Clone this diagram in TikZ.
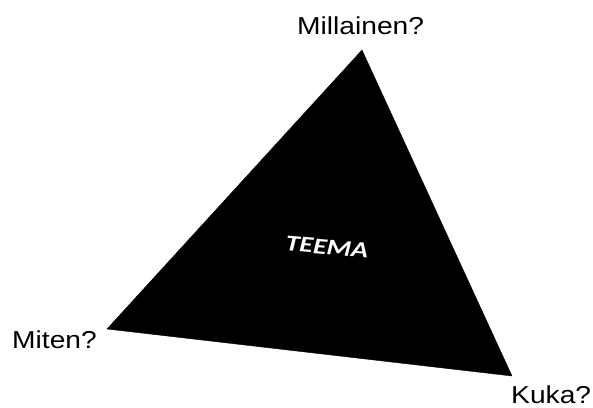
\documentclass[tikz,border=0pt]{standalone}
\usepackage{fontspec}
\setmainfont{Liberation Sans}
\newfontfamily\teemafont{Carlito}
\begin{document}
\begin{tikzpicture}[x=1pt,y=-1pt,
  lbl/.style={inner sep=0pt,anchor=base west,font=\fontsize{24.5}{28}\selectfont},
  tri/.style={fill=black,draw=black,line join=miter}]
\useasboundingbox[fill=white] (0,0) rectangle (593,407);
\coordinate (top) at (362,50);
\coordinate (left) at (107,329);
\coordinate (right) at (512,376);
\fill[tri] (top) -- (right) -- (left) -- cycle;
\node[inner sep=0pt,text=white,rotate=-5,font=\teemafont\bfseries\itshape\fontsize{22.5}{26}\selectfont] (teema) at (327,247) {\scalebox{1.25}[1]{TEEMA}};
\node[lbl] (millainen) at (297,34.3) {\scalebox{1.15}[1]{Millainen?}};
\node[lbl] (miten) at (12,348.3) {\scalebox{1.15}[1]{Miten?}};
\node[lbl] (kuka) at (511,403) {\scalebox{1.15}[1]{Kuka?}};
\end{tikzpicture}
\end{document}
